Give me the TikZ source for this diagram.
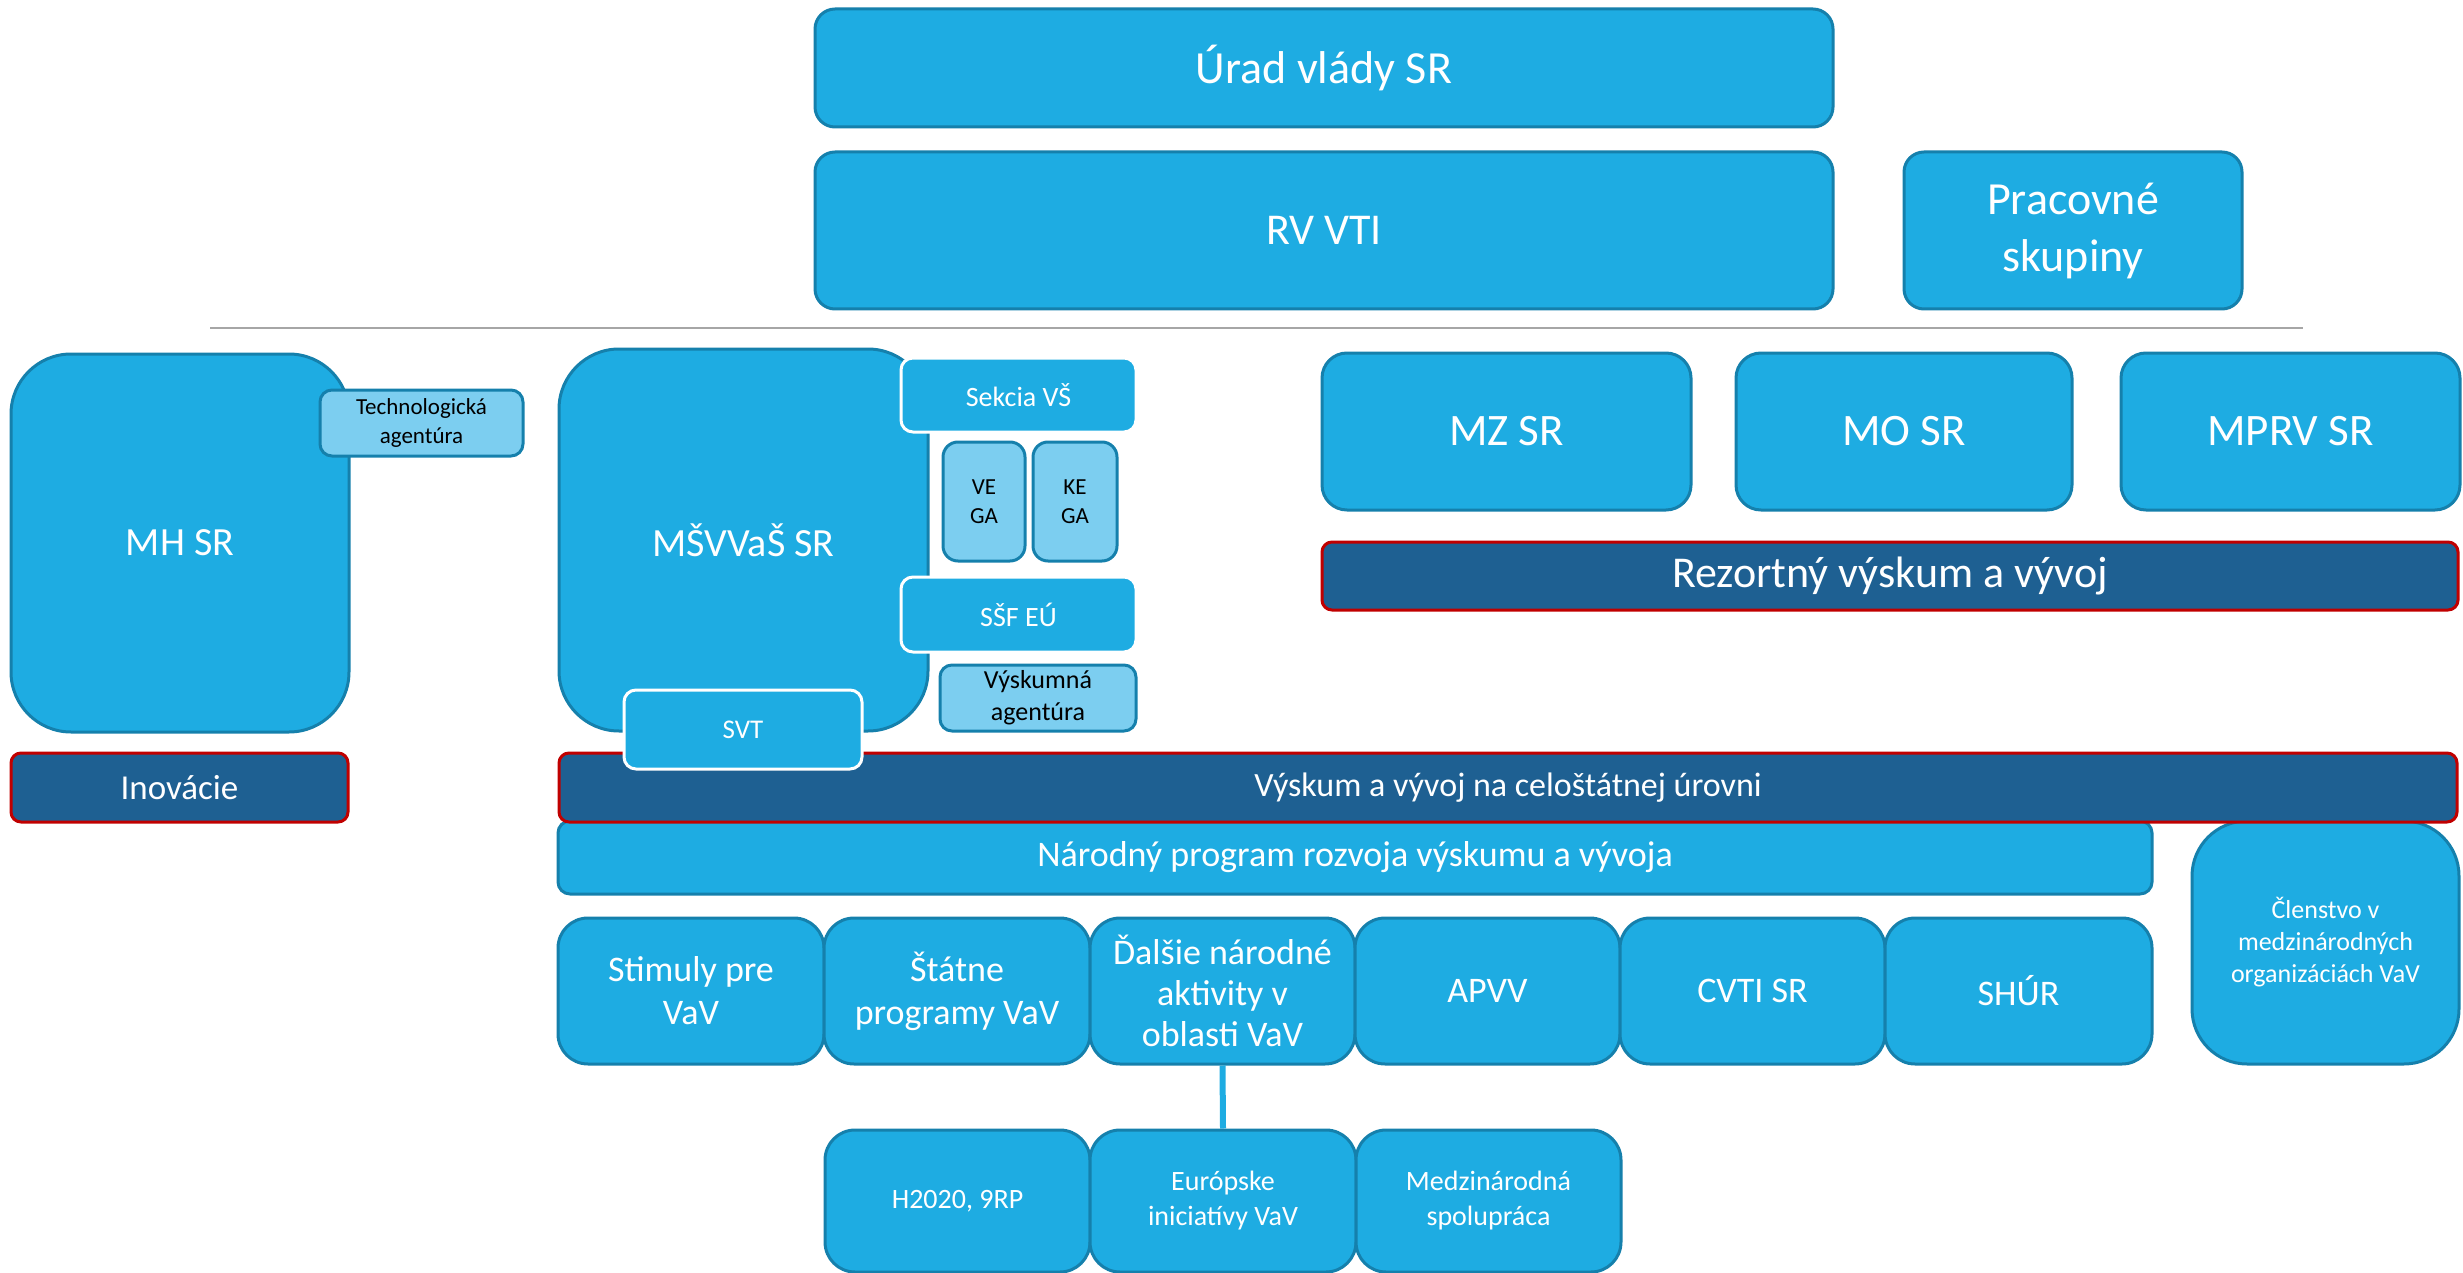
\documentclass[tikz,border=0pt]{standalone}
\usepackage{fontspec}
\setmainfont{Carlito}
\definecolor{fillc}{RGB}{30,172,226}
\definecolor{bordc}{RGB}{21,128,172}
\definecolor{subc}{RGB}{124,206,240}
\definecolor{barc}{RGB}{30,96,146}
\definecolor{redc}{RGB}{192,0,0}
\definecolor{sepc}{RGB}{166,166,166}
\newcommand\fsz[2]{\fontsize{#1}{#2}\selectfont}
\tikzset{
  box/.style={draw=bordc, fill=fillc, line width=3pt, inner sep=0pt, align=center, text=white, rounded corners=20pt},
  subbox/.style={box, fill=subc, text=black, rounded corners=12pt},
  whitebox/.style={box, draw=white, rounded corners=12pt},
  barbox/.style={box, fill=barc, draw=redc, rounded corners=10pt},
  sepline/.style={draw=sepc, line width=2pt},
  linkline/.style={draw=fillc, line width=6pt},
  sz/.style n args={2}{minimum width=#1pt, minimum height=#2pt},
}
\begin{document}
\begin{tikzpicture}[x=1pt,y=-1pt]
\useasboundingbox (0,0) rectangle (2463,1273);
% top
\node[box, sz={1018}{118}, font=\fsz{46}{56}] (urad) at (1324,68) {Úrad vlády SR};
\node[box, sz={1018}{157}, font=\fsz{44}{54}] (rvvti) at (1324,230.5) {RV VTI};
\node[box, sz={338}{157}, font=\fsz{46}{57}] (prac) at (2073,230.5) {Pracovné\\skupiny};
\coordinate (sepL) at (210,328);
\coordinate (sepR) at (2303,328);
\draw[sepline] (sepL) -- (sepR);
% left
\node[box, sz={338}{378}, rounded corners=60pt, font=\fsz{40}{48}] (mhsr) at (180,543) {MH SR};
\node[subbox, sz={203}{66}, font=\fsz{23}{29}] (tech) at (421.5,423) {Technologická\\agentúra};
\node[barbox, sz={337}{69}, font=\fsz{35}{42}] (inov) at (179.5,787.5) {Inovácie};
% ministry of education
\node[box, sz={369}{382}, rounded corners=60pt, font=\fsz{40}{48}] (msvvas) at (743.5,540) {MŠVVaŠ SR};
\node[whitebox, sz={235}{74}, font=\fsz{28}{34}] (sekcia) at (1018.5,395) {Sekcia VŠ};
\node[subbox, sz={82}{119}, rounded corners=15pt, font=\fsz{23}{29}] (vega) at (984,501.5) {VE\\GA};
\node[subbox, sz={84}{119}, rounded corners=15pt, font=\fsz{23}{29}] (kega) at (1075,501.5) {KE\\GA};
\node[whitebox, sz={235}{75}, font=\fsz{28}{34}] (ssf) at (1018.5,614.5) {SŠF EÚ};
\node[subbox, sz={196}{66}, font=\fsz{26}{32}] (vyskag) at (1038,698) {Výskumná\\agentúra};
% other ministries
\node[box, sz={369}{157}, rounded corners=25pt, font=\fsz{45}{54}] (mzsr) at (1506.5,431.5) {MZ SR};
\node[box, sz={336}{157}, rounded corners=25pt, font=\fsz{45}{54}] (mosr) at (1904,431.5) {MO SR};
\node[box, sz={339}{157}, rounded corners=25pt, font=\fsz{45}{54}] (mprv) at (2290.5,431.5) {MPRV SR};
\node[barbox, sz={1136}{68}, font=\fsz{44}{52}] (rezort) at (1890,576) {Rezortný výskum a vývoj};
% national
\node[box, sz={1594}{73}, rounded corners=12pt, font=\fsz{36}{44}] (narodny) at (1355,857.5) {Národný program rozvoja výskumu a vývoja};
\node[box, sz={267}{243}, rounded corners=55pt, font=\fsz{26}{32}] (clenstvo) at (2325.5,942.5) {Členstvo v\\medzinárodných\\organizáciách VaV};
\node[barbox, sz={1898}{69}, font=\fsz{34}{42}] (vyskum) at (1508,787.5) {Výskum a vývoj na celoštátnej úrovni};
\node[whitebox, sz={238}{79}, font=\fsz{27}{33}] (svt) at (743,729.5) {SVT};
% row
\node[box, sz={266}{146}, rounded corners=30pt, font=\fsz{36}{43}] (stimuly) at (691,991) {Stimuly pre\\VaV};
\node[box, sz={266}{146}, rounded corners=30pt, font=\fsz{36}{43}] (statne) at (957,991) {Štátne\\programy VaV};
\node[box, sz={265}{146}, rounded corners=30pt, font=\fsz{36}{41}] (dalsie) at (1222.5,991) {Ďalšie národné\\aktivity v\\oblasti VaV};
\node[box, sz={265}{146}, rounded corners=30pt, font=\fsz{36}{43}] (apvv) at (1487.5,991) {APVV};
\node[box, sz={265}{146}, rounded corners=30pt, font=\fsz{36}{43}] (cvti) at (1752.5,991) {CVTI SR};
\node[box, sz={267}{146}, rounded corners=30pt, font=\fsz{36}{43}] (shur) at (2018.5,991) {SHÚR};
% bottom row
\node[box, sz={265}{142}, rounded corners=30pt, font=\fsz{28}{35}] (h2020) at (957.5,1201) {H2020, 9RP};
\node[box, sz={266}{142}, rounded corners=30pt, font=\fsz{28}{35}] (europ) at (1223,1201) {Európske\\iniciatívy VaV};
\node[box, sz={265}{142}, rounded corners=30pt, font=\fsz{28}{35}] (medz) at (1488.5,1201) {Medzinárodná\\spolupráca};
\draw[linkline] (dalsie.south) -- (europ.north);
\end{tikzpicture}
\end{document}
